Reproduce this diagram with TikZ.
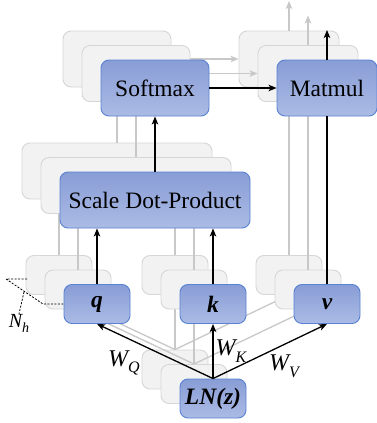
\documentclass[tikz,border=0pt]{standalone}
\usepackage{fontspec}
\setmainfont{Liberation Serif}
\usetikzlibrary{arrows.meta}
\definecolor{boxtop}{RGB}{137,157,214}
\definecolor{boxbot}{RGB}{171,187,229}
\definecolor{boxline}{RGB}{88,130,210}
\definecolor{ghostfill}{RGB}{242,242,242}
\definecolor{ghostline}{RGB}{214,214,214}
\definecolor{greyline}{RGB}{200,200,200}
\tikzset{
  blk/.style={rounded corners=8pt, line width=0.9pt, draw=boxline,
    top color=boxtop, bottom color=boxbot, inner sep=0pt,
    font=\fontsize{23.5}{26}\selectfont},
  ghost/.style={rounded corners=8pt, line width=0.9pt, draw=ghostline,
    fill=ghostfill, inner sep=0pt},
  smsize/.style={minimum width=108pt, minimum height=56pt},
  mmsize/.style={minimum width=100pt, minimum height=56pt},
  sdsize/.style={minimum width=190pt, minimum height=56pt},
  vecsize/.style={minimum width=66pt, minimum height=39pt},
  arr/.style={line width=1.3pt, draw=black,
    -{Stealth[length=8pt,width=6.5pt,inset=2pt]}},
  garr/.style={line width=1.3pt, draw=greyline,
    -{Stealth[length=8pt,width=6.5pt,inset=2pt]}},
  gline/.style={line width=1.3pt, draw=greyline},
  lbl/.style={inner sep=0pt, font=\fontsize{24}{26}\selectfont\itshape},
  anno/.style={line width=0.8pt, draw=black, dash pattern=on 2pt off 1.5pt},
}
\newcommand\subl[1]{\raisebox{-0.28em}{\fontsize{16}{16}\selectfont #1}}
\begin{document}
\begin{tikzpicture}[x=1pt,y=-1pt]
  \useasboundingbox (0,0) rectangle (377,423);
  \fill[white] (0,0) rectangle (377,423);

  % stacked heads behind the front one
  \foreach \n/\sx/\sy in {b/-38/-29, a/-19/-14.5} {
    \begin{scope}[shift={(\sx,\sy)}]
      \node[ghost, smsize]  (sm\n) at (155,88) {};
      \node[ghost, mmsize]  (mm\n) at (327,88) {};
      \node[ghost, sdsize]  (sd\n) at (155,200) {};
      \node[ghost, vecsize] (q\n)  at (97,304) {};
      \node[ghost, vecsize] (k\n)  at (213,304) {};
      \node[ghost, vecsize] (v\n)  at (327,304) {};
      \node[ghost, vecsize] (ln\n) at (213,398.5) {};
      \coordinate (out\n) at (327,30);
      \draw[garr] (sm\n) -- (mm\n);
      \draw[garr] (mm\n.north) -- (out\n);
      \draw[gline] (sd\n.north) -- (sd\n.north |- sm\n.south);
      \draw[gline] (q\n.north) -- (q\n.north |- sd\n.south);
      \draw[gline] (k\n.north) -- (k\n.north |- sd\n.south);
      \draw[gline] (v\n.north) -- (v\n.north |- mm\n.south);
      \draw[gline] (ln\n.north) -- (q\n.south);
      \draw[gline] (ln\n.north) -- (k\n.south);
      \draw[gline] (ln\n.north) -- (v\n.south);
    \end{scope}
  }

  % front head
  \node[blk, smsize]  (sm) at (155,88) {Softmax};
  \node[blk, mmsize]  (mm) at (327,88) {Matmul};
  \node[blk, sdsize]  (sd) at (155,200) {Scale Dot-Product};
  \node[blk, vecsize] (q)  at (97,304) {\bfseries\itshape q};
  \node[blk, vecsize] (k)  at (213,304) {\bfseries\itshape k};
  \node[blk, vecsize] (v)  at (327,304) {\bfseries\itshape v};
  \node[blk, vecsize] (ln) at (213,398.5) {\bfseries\itshape LN(z)};
  \coordinate (out) at (327,30);

  \draw[arr] (sm) -- (mm);
  \draw[arr] (mm.north) -- (out);
  \draw[arr] (sd.north) -- (sd.north |- sm.south);
  \draw[arr] (q.north) -- (q.north |- sd.south);
  \draw[arr] (k.north) -- (k.north |- sd.south);
  \draw[line width=1.3pt] (v.north) -- (v.north |- mm.south);
  \draw[arr] (ln.north) -- (q.south);
  \draw[arr] (ln.north) -- (k.south);
  \draw[arr] (ln.north) -- (v.south);

  % projection labels
  \node[lbl] (wq) at (124,363) {W\subl{Q}};
  \node[lbl] (wk) at (231,351) {W\subl{K}};
  \node[lbl] (wv) at (284,366) {W\subl{V}};

  % number of heads
  \coordinate (tip) at (6,279);
  \coordinate (hb) at (27,279);
  \coordinate (ka) at (43,304);
  \coordinate (hf) at (64,304);
  \coordinate (mid) at (24,292);
  \node[inner sep=0pt, font=\fontsize{20}{22}\selectfont\itshape] (nh) at (19,323)
    {N\raisebox{-0.25em}{\fontsize{14}{14}\selectfont h}};
  \draw[anno] (hb) -- (tip) -- (ka) -- (hf);
  \draw[anno] (mid) -- (nh.north);
\end{tikzpicture}
\end{document}
